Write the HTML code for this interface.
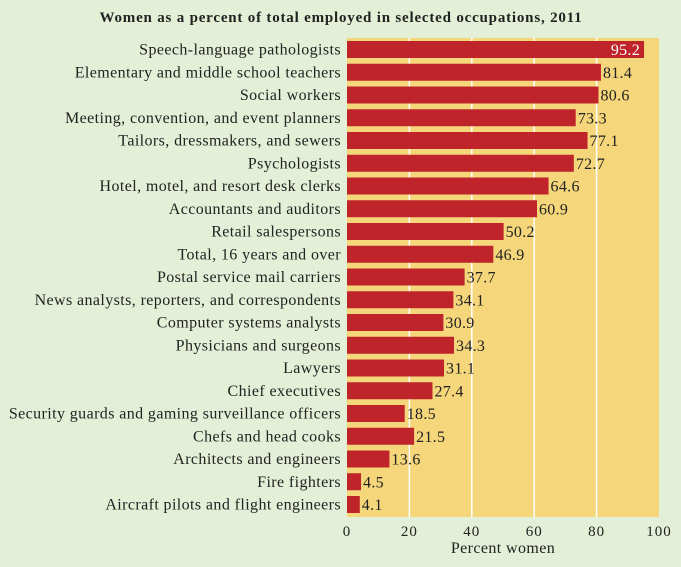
<!DOCTYPE html>
<html><head><meta charset="utf-8"><style>
html,body{margin:0;padding:0;}
body{width:681px;height:562px;background:#e3efd6;overflow:hidden;font-family:"Liberation Serif","DejaVu Serif",serif;}
</style></head><body>
<svg id="chart" width="681" height="562" xmlns="http://www.w3.org/2000/svg">
<text x="341" y="22" text-anchor="middle" font-size="15" font-weight="bold" letter-spacing="0.8" fill="#222">Women as a percent of total employed in selected occupations, 2011</text>
<g id="plot"></g>
</svg>
<script>
const categories=["Speech-language pathologists","Elementary and middle school teachers","Social workers","Meeting, convention, and event planners","Tailors, dressmakers, and sewers","Psychologists","Hotel, motel, and resort desk clerks","Accountants and auditors","Retail salespersons","Total, 16 years and over","Postal service mail carriers","News analysts, reporters, and correspondents","Computer systems analysts","Physicians and surgeons","Lawyers","Chief executives","Security guards and gaming surveillance officers","Chefs and head cooks","Architects and engineers","Fire fighters","Aircraft pilots and flight engineers"];
const values=[95.2,81.4,80.6,73.3,77.1,72.7,64.6,60.9,50.2,46.9,37.7,34.1,30.9,34.3,31.1,27.4,18.5,21.5,13.6,4.5,4.1];
const ticks=[0,20,40,60,80,100];
const NS="http://www.w3.org/2000/svg";
const g=document.getElementById('plot');
const x0=347,x1=659,yTop=38,yBot=517,first=41,step=22.75,bh=17;
const xs=v=>x0+(v/100)*(x1-x0);
function mk(t,a){const e=document.createElementNS(NS,t);for(const k in a)e.setAttribute(k,a[k]);g.appendChild(e);return e;}
const bg=mk('rect',{x:x0,y:yTop,width:x1-x0,height:yBot-yTop,fill:'#f5d67a'});


ticks.forEach(t=>{
 if(t>0&&t<100){const l=mk('line',{x1:xs(t),x2:xs(t),y1:yTop,y2:yBot,stroke:'#fff','stroke-width':1.5});
 
 }
 const tx=mk('text',{x:xs(t),y:536,'text-anchor':'middle','font-size':15,'letter-spacing':1,fill:'#222'});tx.textContent=t;
 
 
});
const xt=mk('text',{x:(x0+x1)/2,y:553,'text-anchor':'middle','font-size':16,'letter-spacing':0.4,fill:'#222'});xt.textContent='Percent women';


categories.forEach((c,i)=>{
 const y=first+i*step,v=values[i];
 const r=mk('rect',{x:x0,y:y,width:xs(v)-x0,height:bh,fill:'#c0242b'});
 
 
 const lb=mk('text',{x:341,y:y+13.5,'text-anchor':'end','font-size':16,'letter-spacing':0.4,fill:'#222'});lb.textContent=c;
 
 
 const inside=v>90;
 const vl=mk('text',{x:inside?xs(v)-4:xs(v)+2,y:y+14,'text-anchor':inside?'end':'start','font-size':16,'letter-spacing':0.3,fill:inside?'#fff':'#222'});vl.textContent=v.toFixed(1);
 
 
});
</script>
</body></html>
